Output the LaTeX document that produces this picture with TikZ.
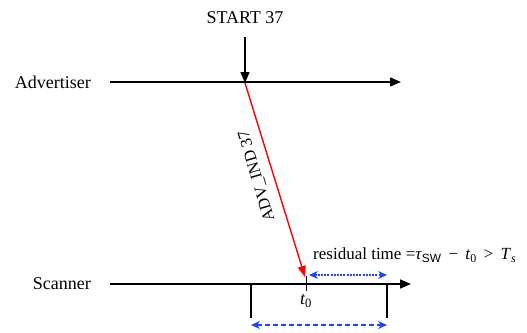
\documentclass[tikz,border=0pt]{standalone}
\usepackage{fontspec}
\setmainfont{Liberation Serif}
\newfontfamily\sansf{Liberation Sans}
\usetikzlibrary{arrows.meta}
\definecolor{myblue}{RGB}{25,70,255}
\tikzset{
  lbl/.style={font=\fontsize{18}{20}\selectfont, inner sep=0pt},
  axis/.style={line width=1.6pt, -{Triangle[length=11pt,width=9pt]}},
  msg/.style={line width=1.4pt, -{Triangle[length=11pt,width=9pt]}},
  bar/.style={line width=1.6pt},
  span/.style={draw=myblue, line width=1.2pt, {Stealth[length=9pt,width=8pt,fill=myblue]}-{Stealth[length=9pt,width=8pt,fill=myblue]}}
}
\begin{document}
\begin{tikzpicture}[x=1pt,y=-1pt]
\useasboundingbox (0,0) rectangle (527,332);
% labels
\node[lbl, anchor=east] (adv) at (91,82) {Advertiser};
\node[lbl, anchor=east] (scn) at (91,284) {Scanner};
\node[lbl] (start) at (245,18) {START 37};
% timelines
\coordinate (a0) at (110,82);
\coordinate (a1) at (401,82);
\coordinate (s0) at (110,284);
\coordinate (s1) at (411,284);
\draw[axis] (a0) -- (a1);
\draw[axis] (s0) -- (s1);
% start arrow
\coordinate (sa) at (245,37);
\coordinate (hit) at (245,83);
\draw[msg] (sa) -- (hit);
% red message
\coordinate (rtip) at (305,277);
\draw[red, line width=1.4pt, -{Triangle[length=11pt,width=8pt]}] (hit) -- (rtip);
\node[font=\fontsize{16.5}{18}\selectfont, rotate=106.5, inner sep=0pt] (advind) at (257,176) {ADV\_IND 37};
% t0 tick
\coordinate (tk0) at (306,276);
\coordinate (tk1) at (306,291);
\draw[line width=1pt] (tk0) -- (tk1);
\node[lbl, font=\fontsize{18}{20}\selectfont\itshape] (t0l) at (306,301) {t\textsubscript{\upshape 0}};
% scan window bars
\coordinate (b0t) at (251,284);
\coordinate (b0b) at (251,318);
\coordinate (b1t) at (387,284);
\coordinate (b1b) at (387,318);
\draw[bar] (b0t) -- (b0b);
\draw[bar] (b1t) -- (b1b);
% blue spans
\coordinate (w0) at (251,325);
\coordinate (w1) at (387,325);
\draw[span, dash pattern=on 5pt off 3pt] (w0) -- (w1);
\coordinate (r0) at (309,275);
\coordinate (r1) at (387,275);
\draw[span, dash pattern=on 2pt off 1.2pt, line width=1.1pt] (r0) -- (r1);
% residual text
\node[font=\fontsize{17}{19}\selectfont, anchor=west, inner sep=0pt] (res) at (313,255)
  {residual time =\textit{τ}\textsubscript{\sansf SW} \,−\, \textit{t}\textsubscript{0} \,>\, \textit{T}\textsubscript{\itshape s}};
\end{tikzpicture}
\end{document}
